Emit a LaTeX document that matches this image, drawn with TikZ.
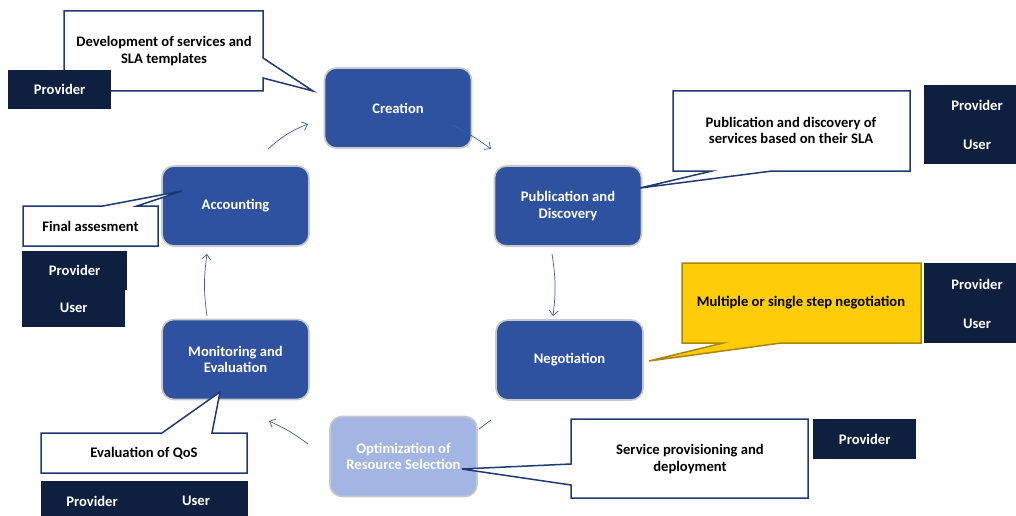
\documentclass[tikz,border=0pt]{standalone}
\usepackage{fontspec}
\setmainfont{Carlito}
\usetikzlibrary{arrows.meta,calc}
\definecolor{nodeblue}{HTML}{2E52A0}
\definecolor{lightnode}{HTML}{A3B6E3}
\definecolor{navy}{HTML}{0E1F40}
\definecolor{calloutline}{HTML}{1F3A6E}
\definecolor{gold}{HTML}{FFCC0A}
\definecolor{goldline}{HTML}{A8870A}
\definecolor{arrowblue}{HTML}{3D5EA6}
\definecolor{glow}{HTML}{C9C9C9}
\tikzset{
  txt/.style={font=\fontsize{14.6}{16.5}\selectfont\bfseries, align=center},
  stage/.style={txt, draw=glow, line width=1.6pt, fill=nodeblue, text=white, rounded corners=12pt, minimum width=147pt, minimum height=80pt, inner sep=0pt},
  lightstage/.style={stage, fill=lightnode},
  role/.style={txt, fill=navy, text=white, inner sep=0pt, anchor=north west},
  callout/.style={draw=calloutline, line width=1.5pt, fill=white, line join=miter},
  yellowcallout/.style={draw=goldline, line width=1.5pt, fill=gold, line join=miter},
  ctext/.style={txt, text=black},
  flow/.style={draw=arrowblue, line width=0.7pt, -{Straight Barb[length=5pt,width=9pt]}},
}
\begin{document}
\begin{tikzpicture}[x=1pt,y=-1pt]
\useasboundingbox (0,0) rectangle (1016,516);
\fill[white] (0,0) rectangle (1016,516);

% stage nodes
\node[stage] (cre) at (398,108) {Creation};
\node[stage] (acc) at (235.5,206) {Accounting};
\node[stage] (pub) at (568,206) {Publication and\\Discovery};
\node[stage] (neg) at (569.5,360) {Negotiation};
\node[stage] (mon) at (235.5,359.5) {Monitoring and\\Evaluation};
\node[lightstage] (opt) at (403.5,456.5) {Optimization of\\Resource Selection};

% flow arrows
\coordinate (a1s) at (268,149); \coordinate (a1e) at (308,124);
\draw[flow] (a1s) to[bend left=10] (a1e);
\coordinate (a2s) at (452,125); \coordinate (a2e) at (491,149);
\draw[flow] (a2s) to[bend left=5] (a2e);
\coordinate (a3s) at (552,254); \coordinate (a3e) at (553,316);
\draw[flow] (a3s) to[bend left=8] (a3e);
\coordinate (a4s) at (491,420); \coordinate (a4e) at (479,429);
\draw[draw=arrowblue, line width=0.7pt] (a4s) -- (a4e);
\coordinate (a5s) at (308,444); \coordinate (a5e) at (269,421);
\draw[flow] (a5s) to[bend right=6] (a5e);
\coordinate (a6s) at (207,316); \coordinate (a6e) at (207,254);
\draw[flow] (a6s) to[bend left=8] (a6e);

% callouts
\draw[callout] (64,11) -- (263,11) -- (263,58) -- (313,91) -- (263,78) -- (263,91) -- (64,91) -- cycle;
\node[ctext] (c1) at (164,51) {Development of services and\\SLA templates};
\node[role, minimum width=103pt, minimum height=39pt] (p1) at (8,69.5) {Provider};

\draw[callout] (23,206) -- (103,206) -- (182,191) -- (137,206) -- (158,206) -- (158,246) -- (23,246) -- cycle;
\node[ctext] (c2) at (90.5,226) {Final assesment};
\node[role, minimum width=105pt, minimum height=39pt] (p2) at (22,251) {Provider};
\node[role, minimum width=103pt, minimum height=39pt] (u2) at (22,288) {User};

\draw[callout] (41,433) -- (162,433) -- (220,392) -- (212,433) -- (247,433) -- (247,473) -- (41,473) -- cycle;
\node[ctext] (c3) at (144,453) {Evaluation of QoS};
\node[role, minimum width=207pt, minimum height=36pt] (pu3) at (41,481) {};
\node[txt, text=white] (p3) at (92,501) {Provider};
\node[txt, text=white] (u3) at (196,501) {User};

\draw[callout] (673,91) -- (910,91) -- (910,171) -- (772,171) -- (640,188) -- (712,171) -- (673,171) -- cycle;
\node[ctext] (c4) at (791,130.5) {Publication and discovery of\\services based on their SLA};
\node[role, minimum width=92pt, minimum height=79pt] (pu4) at (924,85) {};
\node[txt, text=white] (p4) at (977,105) {Provider};
\node[txt, text=white] (u4) at (977,145) {User};

\draw[yellowcallout] (682,263) -- (921,263) -- (921,343) -- (781,343) -- (649,361) -- (723,343) -- (682,343) -- cycle;
\node[ctext] (c5) at (801,303) {Multiple or single step negotiation};
\node[role, minimum width=92pt, minimum height=80pt] (pu5) at (924,263) {};
\node[txt, text=white] (p5) at (977,284) {Provider};
\node[txt, text=white] (u5) at (977,324) {User};

\draw[callout] (571,419) -- (808,419) -- (808,498) -- (571,498) -- (571,485) -- (462,469) -- (571,464) -- cycle;
\node[ctext] (c6) at (690,459) {Service provisioning and\\deployment};
\node[role, minimum width=103pt, minimum height=40pt] (p6) at (813,419) {Provider};
\end{tikzpicture}
\end{document}
